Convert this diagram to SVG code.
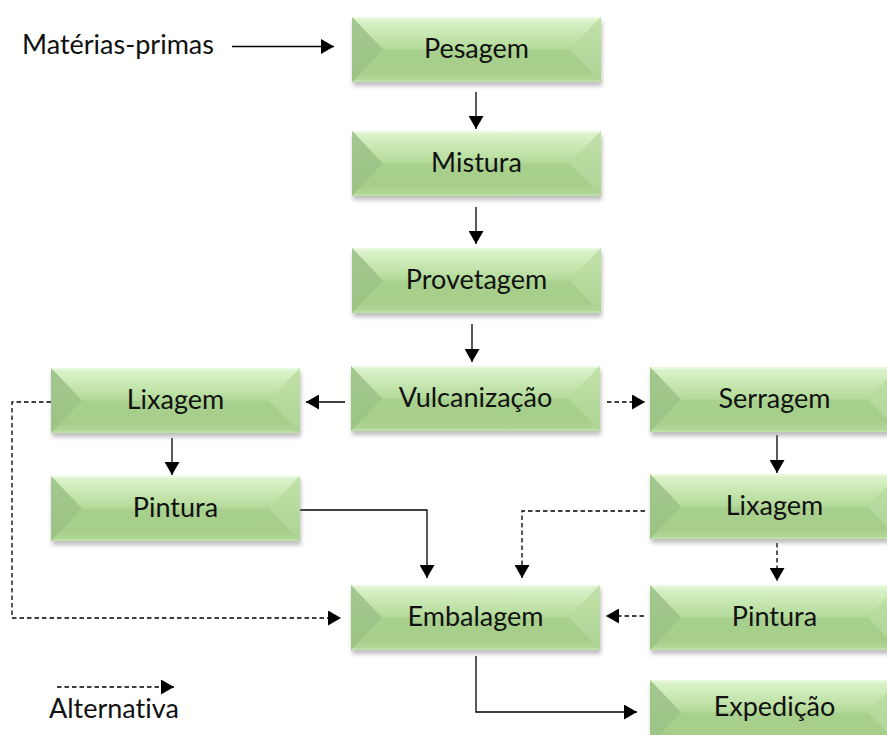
<svg xmlns="http://www.w3.org/2000/svg" xmlns:xlink="http://www.w3.org/1999/xlink" width="887" height="735" viewBox="0 0 887 735">
  <style>
    .lbl { font-family: Lato, "Liberation Sans", Arial, sans-serif; font-size: 27px; fill: #111; font-variant-ligatures: none; }
    .box-lbl { text-anchor: middle; }
    .wire { fill: none; stroke: #000; stroke-width: 1.3; }
    .dash { stroke-dasharray: 4.5 3; }
    .arr { marker-end: url(#head); }
  </style>
  <defs>
    <marker id="head" markerUnits="userSpaceOnUse" markerWidth="14" markerHeight="15" refX="13" refY="7.5" orient="auto">
      <path d="M0,0 L13,7.5 L0,15 z" fill="#000"/>
    </marker>
    <linearGradient id="gTop" x1="0" y1="0" x2="0" y2="1">
      <stop offset="0" stop-color="#e0f4d2"/>
      <stop offset="0.5" stop-color="#c8e8b2"/>
      <stop offset="1" stop-color="#b3da99"/>
    </linearGradient>
    <linearGradient id="gBottom" x1="0" y1="0" x2="0" y2="1">
      <stop offset="0" stop-color="#acd393"/>
      <stop offset="0.85" stop-color="#a6ce8a"/>
      <stop offset="1" stop-color="#b4d99c"/>
    </linearGradient>
    <linearGradient id="gLeft" x1="0" y1="0" x2="0" y2="1">
      <stop offset="0" stop-color="#a3c890"/>
      <stop offset="1" stop-color="#9bc383"/>
    </linearGradient>
    <linearGradient id="gRight" x1="0" y1="0" x2="0" y2="1">
      <stop offset="0" stop-color="#c1e2a9"/>
      <stop offset="1" stop-color="#acd394"/>
    </linearGradient>
    <filter id="shadow" x="-10%" y="-30%" width="120%" height="160%">
      <feGaussianBlur stdDeviation="2.2"/>
    </filter>
    <!-- bevelled process box, 249 x 65 -->
    <g id="bevel">
      <rect x="1" y="4" width="249" height="65" fill="#8a8a8a" opacity="0.55" filter="url(#shadow)"/>
      <rect x="0" y="0" width="249" height="65" fill="url(#gBottom)"/>
      <polygon points="0,0 249,0 218,32.5 31,32.5" fill="url(#gTop)"/>
      <polygon points="0,0 31,32.5 0,65" fill="url(#gLeft)"/>
      <polygon points="249,0 218,32.5 249,65" fill="url(#gRight)"/>
      <line x1="1" y1="1" x2="248" y2="1" stroke="#f2fbea" stroke-width="1.5" opacity="0.8"/>
      <line x1="1" y1="64" x2="248" y2="64" stroke="#c2e2ad" stroke-width="1.5"/>
    </g>
  </defs>

  <rect width="887" height="735" fill="#fff"/>

  <!-- connectors -->
  <g id="connectors">
    <path class="wire arr" d="M232,46.5 H334"/>
    <path class="wire arr" d="M476,92 V129"/>
    <path class="wire arr" d="M476,207 V244"/>
    <path class="wire arr" d="M472,324 V362"/>
    <path class="wire arr" d="M345,402 H306"/>
    <path class="wire arr" d="M172,438 V475"/>
    <path class="wire arr" d="M777,435 V473"/>
    <path class="wire arr" d="M300,510 H427 V578"/>
    <path class="wire arr" d="M476,656 V712 H637"/>
    <path class="wire dash arr" d="M607,402 H645"/>
    <path class="wire dash arr" d="M645,511 H522 V578"/>
    <path class="wire dash arr" d="M777,543 V581"/>
    <path class="wire dash arr" d="M644,616 H606"/>
    <path class="wire dash arr" d="M51,402 H12 V618 H341"/>
    <path class="wire dash arr" d="M57,687 H174"/>
  </g>

  <!-- free labels -->
  <text class="lbl" x="22" y="54">Matérias-primas</text>
  <text class="lbl" x="49" y="718">Alternativa</text>

  <!-- process boxes -->
  <g id="pesagem">
    <use xlink:href="#bevel" x="352" y="17"/>
    <text class="lbl box-lbl" x="476.5" y="58">Pesagem</text>
  </g>
  <g id="mistura">
    <use xlink:href="#bevel" x="352" y="131"/>
    <text class="lbl box-lbl" x="476.5" y="172">Mistura</text>
  </g>
  <g id="provetagem">
    <use xlink:href="#bevel" x="352" y="248"/>
    <text class="lbl box-lbl" x="476.5" y="289">Provetagem</text>
  </g>
  <g id="vulcanizacao">
    <use xlink:href="#bevel" x="351" y="366"/>
    <text class="lbl box-lbl" x="475.5" y="407">Vulcanização</text>
  </g>
  <g id="lixagem-a">
    <use xlink:href="#bevel" x="51" y="368"/>
    <text class="lbl box-lbl" x="175.5" y="409">Lixagem</text>
  </g>
  <g id="serragem">
    <use xlink:href="#bevel" x="650" y="367"/>
    <text class="lbl box-lbl" x="774.5" y="408">Serragem</text>
  </g>
  <g id="pintura-a">
    <use xlink:href="#bevel" x="51" y="476"/>
    <text class="lbl box-lbl" x="175.5" y="517">Pintura</text>
  </g>
  <g id="lixagem-b">
    <use xlink:href="#bevel" x="650" y="474"/>
    <text class="lbl box-lbl" x="774.5" y="515">Lixagem</text>
  </g>
  <g id="embalagem">
    <use xlink:href="#bevel" x="351" y="585"/>
    <text class="lbl box-lbl" x="475.5" y="626">Embalagem</text>
  </g>
  <g id="pintura-b">
    <use xlink:href="#bevel" x="650" y="585"/>
    <text class="lbl box-lbl" x="774.5" y="626">Pintura</text>
  </g>
  <g id="expedicao">
    <use xlink:href="#bevel" x="650" y="680"/>
    <text class="lbl box-lbl" x="774.5" y="716">Expedição</text>
  </g>
</svg>
